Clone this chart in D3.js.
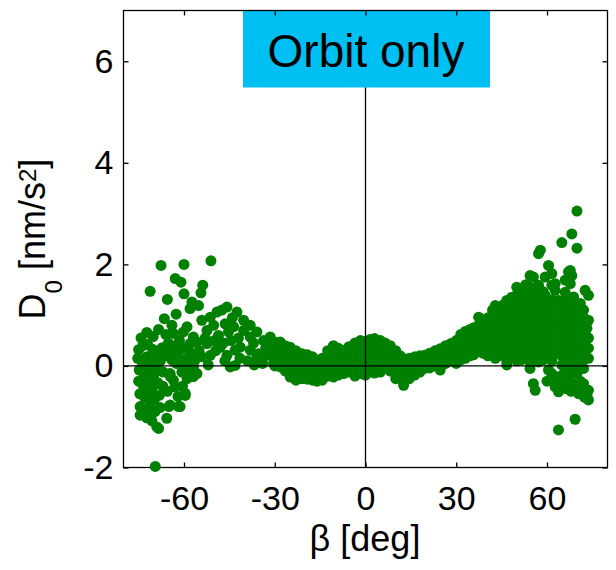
<!DOCTYPE html>
<html>
<head>
<meta charset="utf-8">
<script src="https://cdn.jsdelivr.net/npm/d3@7"></script>
<style>
  html, body { margin: 0; padding: 0; background: #fff; }
  svg { display: block; font-family: "Liberation Sans", Arial, sans-serif; }
</style>
</head>
<body>
<svg id="chart" width="616" height="570"></svg>
<script>
// Tick values
const xTicks = [-60, -30, 0, 30, 60];
const yTicks = [-2, 0, 2, 4, 6];

// Panel title
const panelTitle = "Orbit only";

// Southern beta angles: scattered [beta, D0] samples
const southPts = [
  [-75.0,0.32],[-73.6,0.40],[-72.0,0.42],[-70.4,0.33],[-68.8,0.28],[-67.2,0.36],
  [-75.3,0.15],[-73.8,0.08],[-72.3,0.18],[-70.8,0.06],[-69.3,0.14],[-67.8,0.10],[-66.3,0.20],
  [-74.8,-0.08],[-73.2,-0.15],[-71.6,-0.05],[-70.0,-0.18],[-68.5,-0.08],[-66.9,-0.12],
  [-75.0,-0.30],[-73.5,-0.38],[-71.9,-0.28],[-70.3,-0.42],[-68.7,-0.33],[-67.0,-0.40],
  [-74.6,-0.55],[-73.0,-0.62],[-71.4,-0.52],[-69.8,-0.66],[-68.2,-0.58],
  [-74.5,-0.80],[-72.8,-0.86],[-71.2,-0.74],[-69.6,-0.90],[-67.9,-0.82],
  [-74.5,-0.97],[-72.3,-1.02],[-70.6,-1.08],[-69.0,-1.20],[-68.4,-1.23],
  [-74.2,0.55],[-72.3,0.66],[-70.2,0.58],[-68.4,0.72],[-66.0,0.62],
  [-71.2,1.47],[-67.6,1.98],[-69.5,-1.98],[-65.5,1.31],[-66.5,0.93],
  [-64.0,0.80],[-63.5,0.64],[-62.6,1.02],[-62.9,1.72],[-61.0,1.65],[-60.0,2.00],[-60.0,1.42],
  [-59.0,0.77],[-60.2,0.67],[-58.0,1.13],[-57.4,1.26],[-55.2,1.19],[-56.9,0.57],[-58.0,0.44],
  [-55.7,0.47],[-53.8,1.59],[-54.4,1.44],[-51.1,2.07],
  [-65.2,0.45],[-64.5,0.30],[-63.0,0.40],[-62.0,0.25],[-61.5,0.50],[-60.0,0.35],[-59.0,0.15],
  [-57.5,0.25],[-56.5,0.10],[-64.0,0.12],[-62.5,0.05],[-60.7,0.08],[-58.5,-0.05],[-56.9,-0.02],
  [-55.7,-0.15],
  [-64.5,-0.21],[-63.0,-0.41],[-59.0,-0.25],[-56.9,-0.21],[-59.6,-0.58],[-61.3,-0.80],
  [-65.0,-0.80],[-65.7,-1.03],[-64.6,-0.15],[-63.5,-0.28],[-60.7,-0.12],[-59.6,-0.54],
  [-61.8,-0.80],[-64.6,-0.77],[-57.4,-0.21],[-58.5,-0.05],[-62.0,-0.60],[-65.5,-0.50],[-60.5,-0.40],
  [-52.4,0.70],[-50.2,0.80],[-48.6,0.60],[-46.4,0.83],[-45.3,0.67],[-43.6,0.77],[-52.4,0.44],
  [-51.3,0.21],[-54.1,0.18],[-48.0,0.37],[-45.8,0.21],[-43.1,0.31],[-43.1,0.01],[-54.1,0.90],
  [-51.3,0.96],[-49.1,1.06],[-47.5,1.10],[-45.8,1.16],[-42.5,1.06],[-44.0,0.95],[-50.0,0.50],
  [-47.0,0.45],[-53.0,0.55],[-55.0,0.30],[-49.5,0.30],[-46.5,0.10],[-44.7,-0.02],[-41.4,0.37],
  [-40.3,0.70],[-40.3,0.90],[-42.0,0.55],[-44.5,0.50],[-41.5,0.15],[-52.0,0.02],
  [-38.1,0.57],[-35.9,0.67],[-33.7,0.50],[-31.5,0.44],[-38.1,0.31],[-35.4,0.24],[-32.6,0.21],
  [-38.1,0.80],[-31.5,0.57],[-35.9,0.18],[-30.4,0.05],[-39.0,0.10],[-37.0,0.45],[-33.0,0.35],
  [-34.0,0.05],[-36.8,0.02]
];

// Low beta angles: [beta, [D0 values at that beta]]
const equatorCols = [
  [-30.0,[0.47,0.32,0.15,0.00]],
  [-28.2,[0.47,0.30,0.12,-0.02]],
  [-26.5,[0.40,0.22,0.05,-0.10]],
  [-24.9,[0.37,0.20,0.02,-0.08,-0.22]],
  [-23.0,[0.30,0.15,-0.02,-0.20,-0.28]],
  [-21.0,[0.24,0.10,-0.08,-0.25]],
  [-19.2,[0.22,0.05,-0.12,-0.26]],
  [-17.5,[0.18,0.02,-0.15,-0.28]],
  [-16.0,[0.10,-0.05,-0.20,-0.30]],
  [-14.3,[0.15,0.00,-0.15,-0.28]],
  [-12.5,[0.30,0.12,-0.05,-0.20]],
  [-10.6,[0.40,0.25,0.08,-0.10,-0.22]],
  [-9.0,[0.35,0.18,0.00,-0.18]],
  [-7.2,[0.30,0.12,-0.05,-0.15]],
  [-5.5,[0.38,0.20,0.03,-0.12]],
  [-3.5,[0.45,0.28,0.10,-0.08,-0.20]],
  [-1.7,[0.50,0.33,0.15,-0.02,-0.15]],
  [0.0,[0.48,0.30,0.12,-0.05,-0.18]],
  [1.5,[0.52,0.36,0.18,0.00,-0.12]],
  [3.0,[0.54,0.38,0.20,0.02,-0.14]],
  [4.9,[0.50,0.32,0.14,-0.04,-0.12]],
  [6.5,[0.45,0.28,0.10,-0.05]],
  [8.2,[0.40,0.22,0.05,-0.10]],
  [10.0,[0.30,0.15,0.00,-0.15,-0.25]],
  [11.5,[0.20,0.05,-0.10,-0.25]],
  [12.6,[0.14,0.00,-0.15,-0.38]],
  [14.5,[0.15,0.02,-0.12,-0.25]],
  [16.3,[0.18,0.05,-0.10,-0.18]],
  [18.0,[0.20,0.05,-0.08,-0.12]],
  [19.5,[0.21,0.08,-0.05]],
  [21.2,[0.25,0.10,-0.04]],
  [23.0,[0.30,0.15,0.00]],
  [24.7,[0.34,0.18,0.02,-0.08]],
  [26.5,[0.40,0.22,0.05]],
  [28.2,[0.44,0.28,0.10]],
  [30.0,[0.50,0.32,0.15,0.05]]
];

// Northern beta angles: [beta, [D0 values at that beta]]
const northCols = [
  [31.5,[0.62,0.45,0.28,0.12]],
  [33.0,[0.68,0.50,0.32,0.15]],
  [34.5,[0.72,0.55,0.38,0.20]],
  [35.7,[0.75,0.58,0.40,0.22]],
  [37.4,[0.96,0.80,0.62,0.45,0.28]],
  [39.0,[0.90,0.75,0.58,0.42,0.25]],
  [40.5,[0.95,0.80,0.65,0.48,0.32,0.20]],
  [42.0,[1.10,0.92,0.75,0.60,0.45,0.30]],
  [42.9,[1.19,0.15]],
  [44.0,[1.12,0.95,0.78,0.62,0.48,0.32,0.20]],
  [45.5,[1.20,1.02,0.85,0.70,0.55,0.40,0.25]],
  [46.7,[1.29,1.10,0.92,0.75,0.58,0.42,0.28,0.10,0.02]],
  [48.3,[1.35,1.18,1.00,0.85,0.68,0.50,0.35,0.20]],
  [50.0,[1.55,1.40,1.22,1.05,0.88,0.70,0.55,0.38,0.22,0.10]],
  [51.5,[1.45,1.28,1.10,0.92,0.75,0.60,0.42,0.28,0.12]],
  [53.0,[1.60,1.40,1.20,1.02,0.85,0.68,0.50,0.35,0.18]],
  [54.4,[1.78,1.55,1.35,1.15,0.95,0.78,0.60,0.42,0.25,0.08,-0.05]],
  [55.5,[1.75,1.50,1.28,1.08,0.90,0.70,0.52,0.32,0.15,-0.35]],
  [56.1,[-0.48]],
  [57.2,[2.21,1.59,1.40,1.18,1.00,0.80,0.62,0.45,0.25,0.08]],
  [57.8,[2.28]],
  [58.8,[1.46,1.25,1.05,0.88,0.70,0.50,0.30,0.12]],
  [59.4,[1.75,1.39]],
  [60.0,[-0.30]],
  [60.5,[1.98,1.15,0.95,0.75,0.55,0.35,0.18,-0.08]],
  [61.6,[1.82,1.59,1.30,1.10,0.90,0.70,0.50,0.30,0.10,-0.15]],
  [62.0,[-0.25]],
  [62.7,[1.62,1.49,1.25,1.05,0.85,0.65,0.45,0.25,-0.41]],
  [63.3,[-0.28]],
  [63.8,[1.29,-0.51,-1.26]],
  [64.5,[-0.20]],
  [64.9,[2.43,1.20,1.00,0.80,0.60,0.40,0.20,0.02]],
  [65.0,[-0.35]],
  [66.0,[1.69,1.45,1.10,0.90,0.70,0.50,0.30,0.10,-0.08]],
  [66.5,[-0.45]],
  [66.6,[1.29]],
  [67.1,[1.85,-0.10,-0.25]],
  [67.7,[1.88,1.62,1.15,0.95,0.75,0.55,0.35,0.15,-0.02]],
  [68.0,[-0.50]],
  [68.2,[2.60,1.78]],
  [68.8,[1.36,1.02,0.82,0.60,0.40,0.20,0.00,-0.35]],
  [69.3,[-1.05]],
  [69.9,[3.05,2.32,1.20,0.88,0.68,0.48,0.28,-0.15,-0.48]],
  [70.5,[-0.55]],
  [71.0,[1.23,1.05,0.85,0.62,0.42,0.22,0.05,-0.30]],
  [71.5,[-0.45]],
  [72.1,[1.10,0.95,0.72,0.52,0.32,0.12,-0.05,-0.35]],
  [72.5,[-0.62]],
  [72.6,[1.49]],
  [73.2,[0.74,-0.58]],
  [73.7,[1.39,0.90,0.55,0.35,0.15,-0.48,-0.67]]
];

// Flatten everything into one list of [beta, D0]
const colsToPts = cols => cols.flatMap(([b, ds]) => ds.map(d => [b, d]));
const points = southPts.concat(colsToPts(equatorCols), colsToPts(northCols));

const svg = d3.select("#chart");
const plot = { left: 123.5, right: 607.5, top: 10.5, bottom: 467.5 };

const x = d3.scaleLinear().domain([-80, 80]).range([plot.left, plot.right]);
const y = d3.scaleLinear().domain([-2, 7]).range([plot.bottom, plot.top]);

const fontFam = '"Liberation Sans", Arial, sans-serif';
const axisColor = "#000";
const plainNum = d => String(d);

// Title banner
svg.append("rect")
  .attr("x", 243).attr("y", plot.top)
  .attr("width", 247).attr("height", 77)
  .attr("fill", "#00bff2");
svg.append("text")
  .attr("x", 366).attr("y", 67)
  .attr("text-anchor", "middle")
  .attr("font-size", 46)
  .attr("font-family", fontFam)
  .attr("fill", "#000")
  .text(panelTitle);

// Axes box
svg.append("rect")
  .attr("x", plot.left).attr("y", plot.top)
  .attr("width", plot.right - plot.left).attr("height", plot.bottom - plot.top)
  .attr("fill", "none").attr("stroke", axisColor).attr("stroke-width", 1.3);

function styleAxis(g) {
  g.select(".domain").remove();
  g.selectAll(".tick line").attr("stroke", axisColor).attr("stroke-width", 1.3);
  g.selectAll(".tick text")
    .attr("fill", "#000")
    .attr("font-size", 34)
    .attr("font-family", fontFam);
}

// Bottom axis (inward ticks with labels)
svg.append("g")
  .attr("transform", `translate(0,${plot.bottom})`)
  .call(d3.axisBottom(x).tickValues(xTicks).tickFormat(plainNum)
    .tickSizeInner(-5).tickSizeOuter(0).tickPadding(18))
  .call(styleAxis);

// Top axis (ticks only)
svg.append("g")
  .attr("transform", `translate(0,${plot.top})`)
  .call(d3.axisTop(x).tickValues(xTicks).tickSizeInner(-5).tickSizeOuter(0).tickFormat(""))
  .call(styleAxis);

// Left axis (inward ticks with labels)
svg.append("g")
  .attr("transform", `translate(${plot.left},0)`)
  .call(d3.axisLeft(y).tickValues(yTicks).tickFormat(plainNum)
    .tickSizeInner(-5).tickSizeOuter(0).tickPadding(10))
  .call(styleAxis);

// Right axis (ticks only)
svg.append("g")
  .attr("transform", `translate(${plot.right},0)`)
  .call(d3.axisRight(y).tickValues(yTicks).tickSizeInner(-5).tickSizeOuter(0).tickFormat(""))
  .call(styleAxis);

// Scatter points
svg.append("g")
  .selectAll("circle")
  .data(points)
  .join("circle")
  .attr("cx", d => x(d[0]))
  .attr("cy", d => y(d[1]))
  .attr("r", 5.5)
  .attr("fill", "#008000");

// Zero reference lines drawn over the points
svg.append("line")
  .attr("x1", plot.left).attr("x2", plot.right)
  .attr("y1", y(0)).attr("y2", y(0))
  .attr("stroke", axisColor).attr("stroke-width", 1.3);
svg.append("line")
  .attr("x1", x(0)).attr("x2", x(0))
  .attr("y1", plot.top + 77).attr("y2", plot.bottom)
  .attr("stroke", axisColor).attr("stroke-width", 1.3);

// X axis title
svg.append("text")
  .attr("x", 365).attr("y", 551)
  .attr("text-anchor", "middle")
  .attr("font-size", 36)
  .attr("font-family", fontFam)
  .attr("fill", "#000")
  .text("β [deg]");

// Y axis title with subscript and superscript
const yTitle = svg.append("text")
  .attr("transform", `translate(45,${(plot.top + plot.bottom) / 2}) rotate(-90)`)
  .attr("text-anchor", "middle")
  .attr("font-size", 36)
  .attr("font-family", fontFam)
  .attr("fill", "#000");
yTitle.append("tspan").text("D");
yTitle.append("tspan").attr("font-size", 24).attr("dy", 17).text("0");
yTitle.append("tspan").attr("dy", -17).text(" [nm/s");
yTitle.append("tspan").attr("font-size", 24).attr("dy", -9).text("2");
yTitle.append("tspan").attr("dy", 9).text("]");
</script>
</body>
</html>
